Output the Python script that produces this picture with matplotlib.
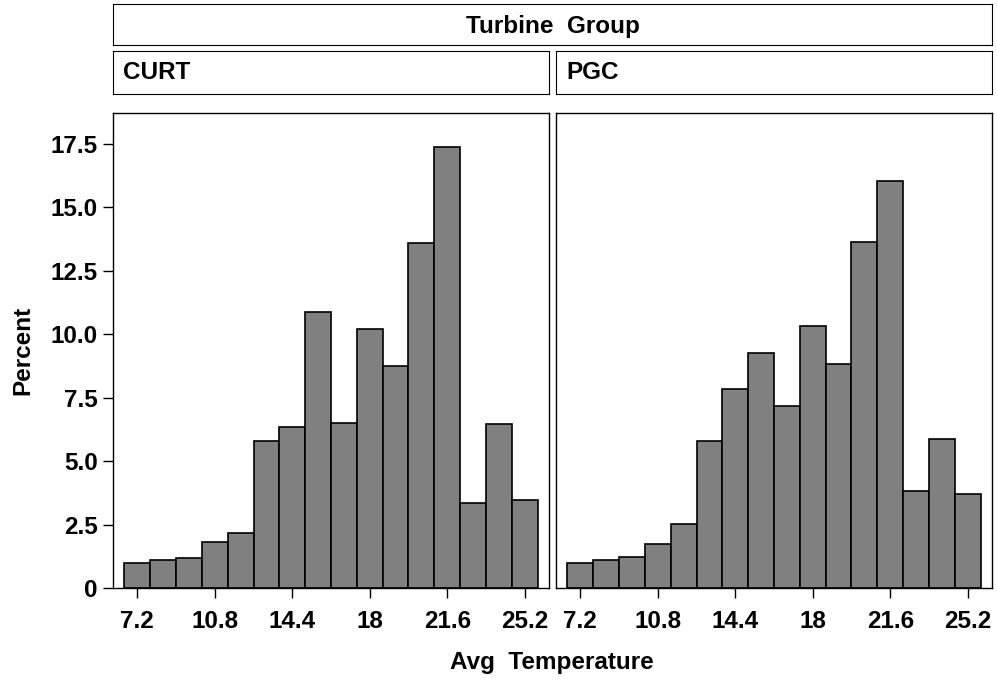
import matplotlib
matplotlib.use("Agg")
import matplotlib.pyplot as plt

plt.rcParams['font.family'] = ['Liberation Sans', 'DejaVu Sans']
plt.rcParams['font.weight'] = 'bold'

bin_centers = [7.2, 8.4, 9.6, 10.8, 12.0, 13.2, 14.4, 15.6, 16.8, 18.0, 19.2, 20.4, 21.6, 22.8, 24.0, 25.2]
curt = [0.99, 1.10, 1.18, 1.82, 2.17, 5.80, 6.36, 10.86, 6.51, 10.22, 8.76, 13.58, 17.37, 3.36, 6.45, 3.45]
pgc = [0.99, 1.10, 1.24, 1.74, 2.53, 5.80, 7.86, 9.28, 7.18, 10.34, 8.84, 13.62, 16.03, 3.83, 5.88, 3.71]
groups = ['CURT', 'PGC']
xticks = [7.2, 10.8, 14.4, 18, 21.6, 25.2]
xticklabels = ['7.2', '10.8', '14.4', '18', '21.6', '25.2']
yticks = [0, 2.5, 5.0, 7.5, 10.0, 12.5, 15.0, 17.5]
yticklabels = ['0', '2.5', '5.0', '7.5', '10.0', '12.5', '15.0', '17.5']
bin_width = 1.2

W, H = 997, 683
fig = plt.figure(figsize=(W / 100, H / 100), dpi=100)

def fr(x0, y0, x1, y1):
    return [x0 / W, 1 - y1 / H, (x1 - x0) / W, (y1 - y0) / H]

fs = 17.5
# Header box
hdr = fig.add_axes(fr(113, 4, 992, 45))
hdr.set_xticks([]); hdr.set_yticks([])
hdr.text(0.5, 0.45, 'Turbine  Group', ha='center', va='center', fontsize=fs, fontweight='bold', transform=hdr.transAxes)

panels = [(113, 549), (556, 992)]
for i, (g, vals) in enumerate(zip(groups, [curt, pgc])):
    x0, x1 = panels[i]
    lab = fig.add_axes(fr(x0, 51, x1, 94))
    lab.set_xticks([]); lab.set_yticks([])
    lab.text(0.023, 0.5, g, ha='left', va='center', fontsize=fs, fontweight='bold', transform=lab.transAxes)

    ax = fig.add_axes(fr(x0, 113, x1, 588))
    ax.bar(bin_centers, vals, width=bin_width, color='#808080', edgecolor='black', linewidth=1.2)
    ax.set_xlim(6.07, 26.33)
    ax.set_ylim(0, 18.72)
    ax.set_xticks(xticks)
    ax.set_xticklabels(xticklabels, fontsize=fs, fontweight='bold')
    ax.tick_params(axis='x', direction='out', length=7, width=1, pad=9)
    if i == 0:
        ax.set_yticks(yticks)
        ax.set_yticklabels(yticklabels, fontsize=fs, fontweight='bold')
        ax.tick_params(axis='y', direction='out', length=7, width=1, pad=4)
        ax.set_ylabel('Percent', fontsize=fs, fontweight='bold', labelpad=12)
    else:
        ax.set_yticks([])
    for s in ax.spines.values():
        s.set_linewidth(1)

fig.text(552 / W, 1 - 662 / H, 'Avg  Temperature', ha='center', va='center', fontsize=fs, fontweight='bold')

fig.savefig('out.png', dpi=100)
